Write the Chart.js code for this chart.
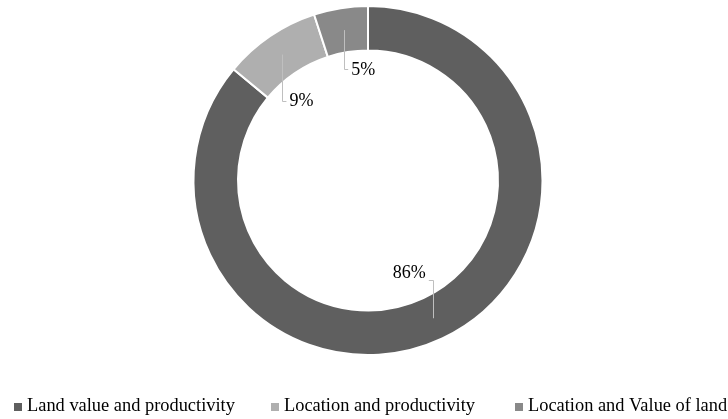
<!DOCTYPE html>
<html>
<head>
<meta charset="utf-8">
<script src="https://cdn.jsdelivr.net/npm/chart.js@4/dist/chart.umd.min.js"></script>
<style>
  html, body { margin: 0; padding: 0; background: #ffffff; }
  #wrap { width: 728px; height: 419px; position: relative; }
</style>
</head>
<body>
<div id="wrap"><canvas id="c" width="728" height="419"></canvas></div>
<script>
// ---- data ----
const categories = ['Land value and productivity', 'Location and productivity', 'Location and Value of land'];
const values = [86, 9, 5];
const percentLabels = ['86%', '9%', '5%'];

// ---- styles ----
const colors = ['#5f5f5f', '#afafaf', '#898989'];
const serif = '"Liberation Serif", "Times New Roman", serif';
// leader line geometry for each label (dy = vertical run, dx = horizontal run, tdy = text offset)
const leaderStyle = [
  { dy: -38, dx: -4, tdy: -7, align: 'right' },
  { dy: 46, dx: 4, tdy: 1, align: 'left' },
  { dy: 39, dx: 4, tdy: 1, align: 'left' }
];
const legendItemX = [14, 271, 515];

const labelPlugin = {
  id: 'leaderLabels',
  afterDatasetsDraw(chart) {
    const ctx = chart.ctx;
    const meta = chart.getDatasetMeta(0);
    ctx.save();
    meta.data.forEach((arc, i) => {
      const p = arc.getProps(['x', 'y', 'startAngle', 'endAngle', 'innerRadius', 'outerRadius'], true);
      const a = (p.startAngle + p.endAngle) / 2;
      const r = (p.innerRadius + p.outerRadius) / 2;
      const x0 = p.x + r * Math.cos(a);
      const y0 = p.y + r * Math.sin(a);
      const s = leaderStyle[i];
      const y1 = y0 + s.dy;
      const x1 = x0 + s.dx;
      ctx.strokeStyle = '#bfbfbf';
      ctx.lineWidth = 1;
      ctx.beginPath();
      ctx.moveTo(Math.round(x0) + 0.5, y0);
      ctx.lineTo(Math.round(x0) + 0.5, Math.round(y1) + 0.5);
      ctx.lineTo(x1, Math.round(y1) + 0.5);
      ctx.stroke();
      ctx.fillStyle = '#000000';
      ctx.font = '18px ' + serif;
      ctx.textBaseline = 'middle';
      ctx.textAlign = s.align;
      const tx = s.align === 'right' ? x1 - 3 : x1 + 3;
      ctx.fillText(percentLabels[i], tx, y1 + s.tdy);
    });
    ctx.restore();
  }
};

const legendPlugin = {
  id: 'customLegend',
  afterDraw(chart) {
    const ctx = chart.ctx;
    ctx.save();
    ctx.font = '18.4px ' + serif;
    ctx.textBaseline = 'alphabetic';
    ctx.textAlign = 'left';
    categories.forEach((name, i) => {
      const x = legendItemX[i];
      ctx.fillStyle = colors[i];
      ctx.fillRect(x, 403, 8, 8);
      ctx.fillStyle = '#000000';
      ctx.fillText(name, x + 13, 411);
    });
    ctx.restore();
  }
};

new Chart(document.getElementById('c'), {
  type: 'doughnut',
  data: {
    labels: categories,
    datasets: [{
      data: values,
      backgroundColor: colors,
      borderColor: '#ffffff',
      borderWidth: 2,
      hoverOffset: 0
    }]
  },
  options: {
    responsive: false,
    animation: false,
    cutout: '74.5%',
    layout: { padding: { top: 5, bottom: 63, left: 8, right: 0 } },
    plugins: {
      legend: { display: false },
      tooltip: { enabled: false }
    }
  },
  plugins: [labelPlugin, legendPlugin]
});
</script>
</body>
</html>
